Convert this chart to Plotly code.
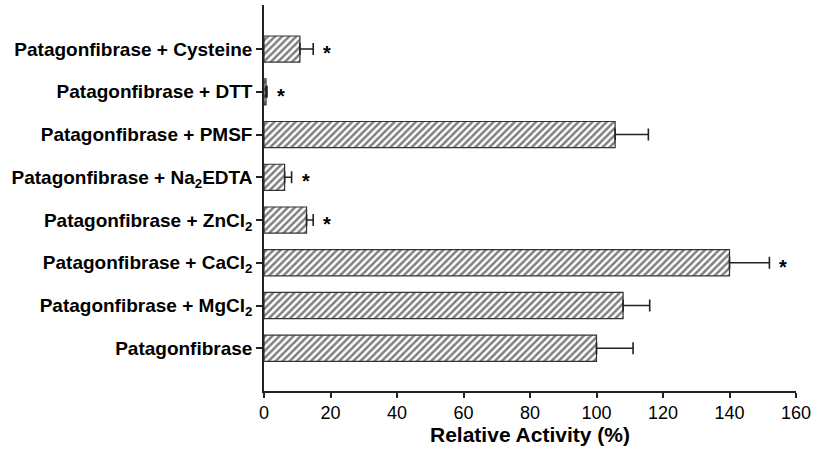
import plotly.graph_objects as go

categories = [
    "Patagonfibrase",
    "Patagonfibrase + MgCl<sub>2</sub>",
    "Patagonfibrase + CaCl<sub>2</sub>",
    "Patagonfibrase + ZnCl<sub>2</sub>",
    "Patagonfibrase + Na<sub>2</sub>EDTA",
    "Patagonfibrase + PMSF",
    "Patagonfibrase + DTT",
    "Patagonfibrase + Cysteine",
]
activity = [100, 108, 140, 12.8, 6.2, 105.6, 0.6, 10.8]
error = [11, 8, 12, 2, 2.1, 10, 0.3, 4]
significant = [False, False, True, True, True, False, True, True]
x_ticks = [0, 20, 40, 60, 80, 100, 120, 140, 160]

fig = go.Figure()
fig.add_trace(go.Bar(
    y=categories,
    x=activity,
    orientation="h",
    width=0.61,
    marker=dict(
        color="white",
        line=dict(color="#333333", width=1.2),
        pattern=dict(shape="/", fgcolor="#000000", bgcolor="white", size=5, solidity=0.5),
    ),
    error_x=dict(type="data", symmetric=False, array=error,
                 arrayminus=[0] * len(error), color="#222222", thickness=1.6, width=6),
    showlegend=False,
    hoverinfo="skip",
))

for cat, val, err, sig in zip(categories, activity, error, significant):
    if sig:
        fig.add_annotation(x=val + err, y=cat, text="*", showarrow=False,
                           xanchor="left", xshift=8, yshift=-4,
                           font=dict(family="Liberation Sans", size=20, color="black", weight="bold"))

fig.update_layout(
    width=816, height=453,
    margin=dict(l=264, r=18, t=5, b=62),
    plot_bgcolor="white", paper_bgcolor="white",
)
fig.update_xaxes(
    range=[0, 160], tickvals=x_ticks,
    showline=True, linecolor="#222222", linewidth=1.5,
    ticks="outside", ticklen=5, tickcolor="#222222", tickwidth=1.5,
    showgrid=False, zeroline=False,
    tickfont=dict(family="Liberation Sans", size=18, color="black"),
    title=dict(text="Relative Activity (%)", standoff=5,
               font=dict(family="Liberation Sans", size=21, color="black", weight="bold")),
)
fig.update_yaxes(
    type="category", range=[-1.0, 8.03],
    showline=True, linecolor="#222222", linewidth=1.5,
    ticks="outside", ticklen=6, tickcolor="#222222", tickwidth=1.5,
    showgrid=False, zeroline=False,
    tickfont=dict(family="Liberation Sans", size=19, color="black", weight="bold"),
)

fig.write_html("out.html", config={"displayModeBar": False},
               post_script="document.body.style.margin='0';")
